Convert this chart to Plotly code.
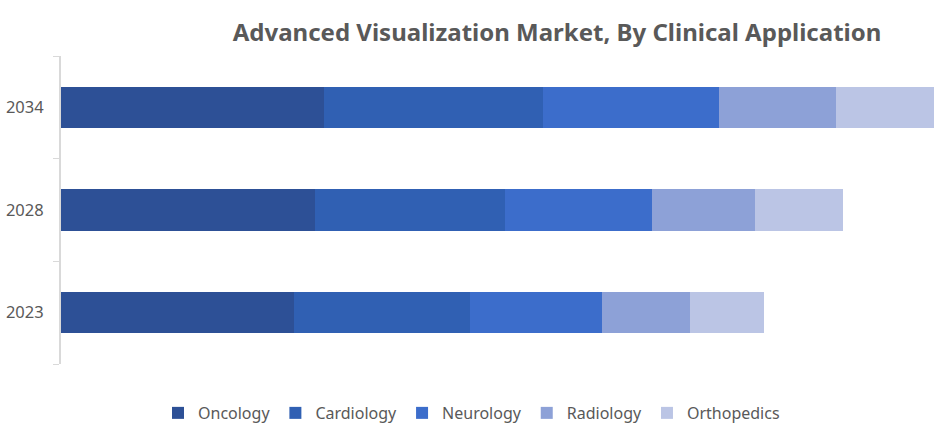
import plotly.graph_objects as go

years = ["2023", "2028", "2034"]
segments = ["Oncology", "Cardiology", "Neurology", "Radiology", "Orthopedics"]
oncology = [2.33, 2.54, 2.63]
cardiology = [1.76, 1.90, 2.19]
neurology = [1.32, 1.47, 1.76]
radiology = [0.88, 1.03, 1.17]
orthopedics = [0.74, 0.88, 0.98]
series = [oncology, cardiology, neurology, radiology, orthopedics]
colors = ["#2D5096", "#3060B3", "#3C6DCB", "#8DA1D7", "#BBC5E5"]

fig = go.Figure()
for name, vals, c in zip(segments, series, colors):
    fig.add_trace(go.Bar(
        y=years, x=vals, name=name, orientation="h",
        marker=dict(color=c, line=dict(width=0)),
    ))

fig.update_layout(
    barmode="stack",
    bargap=0.6,
    width=940, height=444,
    margin=dict(l=61, r=0, t=56, b=80),
    paper_bgcolor="white", plot_bgcolor="white",
    font=dict(family="Noto Sans", color="#595959", size=16),
    title=dict(
        text="<b>Advanced Visualization Market, By Clinical Application</b>",
        x=0.5926, xanchor="center", y=0.926, yanchor="middle",
        font=dict(family="Noto Sans", size=24, color="#595959"),
    ),
    xaxis=dict(range=[0, 8.79], visible=False, showgrid=False, zeroline=False),
    yaxis=dict(
        categoryorder="array", categoryarray=years,
        showline=True, linecolor="#D9D9D9", linewidth=2,
        ticks="outside", tickson="boundaries", ticklen=6, tickcolor="#D9D9D9",
        ticklabelstandoff=12,
        tickfont=dict(size=16.5, color="#595959"),
        showgrid=False, zeroline=False,
    ),
    legend=dict(
        orientation="h", x=0.467, xanchor="center", y=-0.159, yanchor="middle",
        font=dict(size=16, color="#595959"),
        itemwidth=30, traceorder="normal",
    ),
    showlegend=True,
)

fig.write_html("out.html")
